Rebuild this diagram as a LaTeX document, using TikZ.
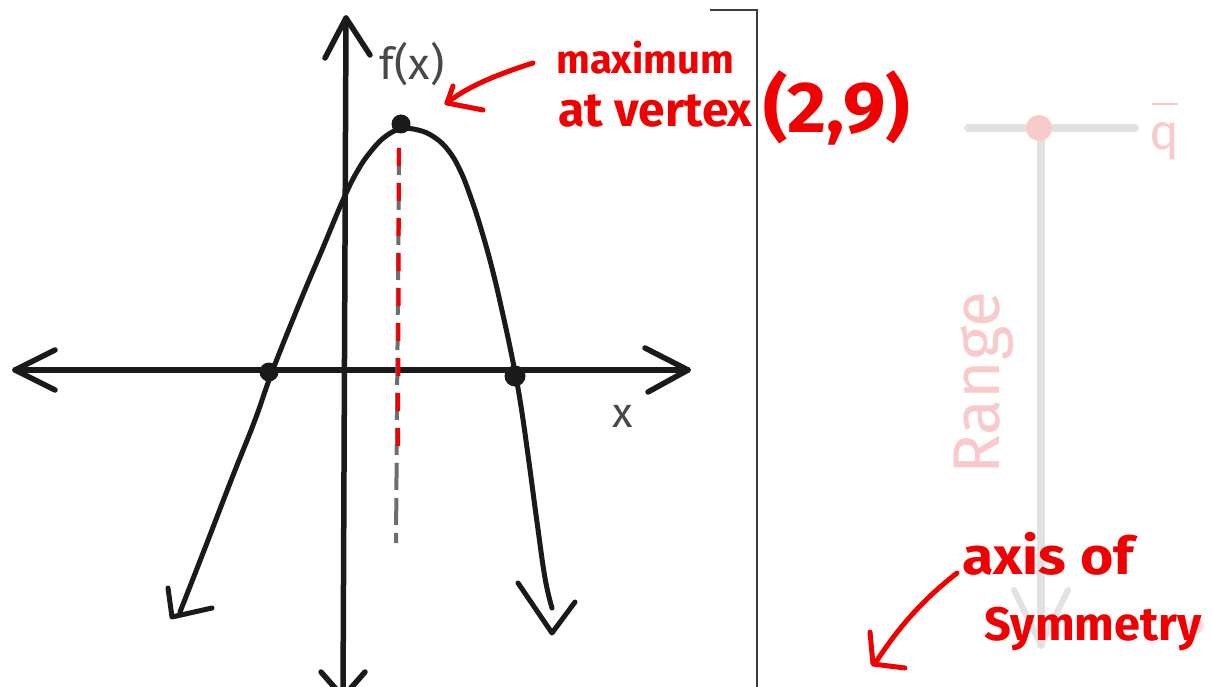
\documentclass[tikz,border=0pt]{standalone}
\usepackage{fontspec}
\setmainfont{Fira Sans}
\definecolor{inkc}{HTML}{1A1A1A}
\definecolor{redc}{HTML}{F00000}
\definecolor{dashgray}{HTML}{6E6E6E}
\definecolor{fadegray}{HTML}{E2E2E2}
\definecolor{fadepink}{HTML}{F8CACA}
\begin{document}
\begin{tikzpicture}[x=1pt,y=-1pt,
  ink/.style={draw=inkc,line width=5.5pt,line cap=round,line join=round},
  redink/.style={draw=redc,line width=5pt,line cap=round,line join=round},
  fadeink/.style={draw=fadegray,line width=8pt,line cap=round,line join=round},
  dotnode/.style={circle,fill=inkc,inner sep=0pt,minimum size=19pt},
  redtext/.style={text=redc,inner sep=0pt},
]
\useasboundingbox[fill=white] (0,0) rectangle (1212,687);

% ---- right-hand faint sketch ----
\coordinate (rlineL) at (968,128);
\coordinate (rlineR) at (1135,128);
\coordinate (rtop) at (1041,132);
\coordinate (rbot) at (1041,645);
\draw[fadeink] (rlineL) -- (rlineR);
\draw[fadeink] (rtop) -- (rbot);
\draw[fadeink,line width=6pt] (1014,590) -- (rbot) -- (1068,590);
\node[circle,fill=fadepink,inner sep=0pt,minimum size=26pt] (rdot) at (1039,128) {};
\node[circle,fill=fadepink!60,inner sep=0pt,minimum size=16pt] (rdot2) at (1196,626) {};
\node[text=fadepink,rotate=90,inner sep=0pt,font=\fontsize{66}{66}\selectfont] (range) at (984,383) {Range};
\node[text=fadepink,inner sep=0pt,font=\fontsize{50}{50}\selectfont,anchor=base] (qlbl) at (1164,150) {q};
\draw[draw=fadepink,line width=2pt] (1152,104) -- (1178,104);

% ---- divider ----
\coordinate (divtop) at (757,10);
\coordinate (divcap) at (710,10);
\coordinate (divbot) at (757,687);
\draw[draw=inkc!85,line width=2.5pt] (divcap) -- (divtop) -- (divbot);

% ---- axes ----
\coordinate (ytop) at (346,18);
\coordinate (ybot) at (343,697);
\coordinate (xleft) at (15,370);
\coordinate (xright) at (688,370);
\draw[ink] (ybot) -- (ytop);
\draw[ink] (325,58) -- (ytop) -- (370,55);
\draw[ink] (321,672) -- (ybot) -- (365,672);
\draw[ink] (xleft) -- (xright);
\draw[ink] (55,350) -- (xleft) -- (55,390);
\draw[ink] (645,348) -- (xright) -- (648,392);

\node[text=inkc!80,inner sep=0pt,font=\fontsize{42}{42}\selectfont] (xlbl) at (623,416) {x};
\node[text=inkc!80,inner sep=0pt,font=\fontsize{44}{44}\selectfont] (fxlbl) at (412,64) {f(x)};

% ---- axis of symmetry (dashed) ----
\coordinate (symtop) at (399,148);
\coordinate (symbot) at (396,543);
\coordinate (symred) at (398,463);
\draw[draw=dashgray,line width=4pt,dash pattern=on 27pt off 8pt] (symtop) -- (symbot);
\draw[draw=redc,line width=4pt,dash pattern=on 18pt off 17pt] (symtop) -- (symred);

% ---- parabola ----
\draw[ink,line width=5pt] plot[smooth,tension=0.7] coordinates {
 (180,612) (205,548) (232,478) (255,420) (272,372) (300,302) (322,250)
 (343,200) (358,170) (372,150) (386,136) (401,129) (418,130) (434,137)
 (448,150) (460,170) (471,198) (482,232) (493,272) (503,315) (512,357)
 (520,400) (528,455) (537,522) (545,578) (552,608)};
\draw[ink,line width=5pt] (168,588) -- (172,617) -- (212,608);
\draw[ink,line width=5pt] (518,583) -- (552,633) -- (575,602);

\node[dotnode] (xint1) at (269,372) {};
\node[dotnode,minimum size=21pt] (xint2) at (515,376) {};
\node[dotnode] (vertex) at (401,124) {};

% ---- red annotations ----
\node[redtext,anchor=base west,font=\bfseries\fontsize{40}{40}\selectfont] (maxlbl) at (556,74) {maximum};
\node[redtext,anchor=base west,font=\bfseries\fontsize{48}{48}\selectfont] (vtxlbl) at (558,127) {at vertex};
\node[redtext,anchor=base west,font=\bfseries\fontsize{72}{72}\selectfont,xscale=1.05] (ptlbl) at (763,133) {(2,9)};
\coordinate (maxarrS) at (533,63);
\coordinate (maxarrE) at (447,103);
\draw[redink] (maxarrS) .. controls (495,75) and (465,88) .. (maxarrE);
\draw[redink] (453,86) -- (maxarrE) -- (483,110);

\node[redtext,anchor=base west,font=\bfseries\fontsize{52}{52}\selectfont,xscale=1.1] (axislbl) at (962,574) {axis of};
\node[redtext,anchor=base west,font=\bfseries\fontsize{47}{47}\selectfont] (symlbl) at (984,640) {Symmetry};
\coordinate (symarrS) at (957,573);
\coordinate (symarrE) at (876,662);
\draw[redink] (symarrS) .. controls (925,598) and (900,625) .. (symarrE);
\draw[redink] (870,632) -- (873,664) -- (905,668);
\end{tikzpicture}
\end{document}
